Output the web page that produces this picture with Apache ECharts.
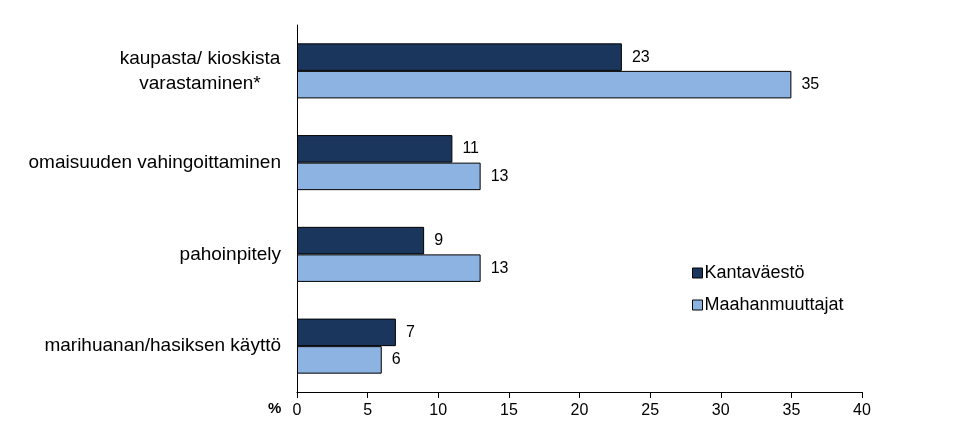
<!DOCTYPE html>
<html><head><meta charset="utf-8">
<script src="https://cdn.jsdelivr.net/npm/echarts@6/dist/echarts.min.js"></script>
<style>html,body{margin:0;padding:0;background:#fff}#c{width:979px;height:436px}</style>
</head><body><div id="c"></div>
<script>
const categories = ['kaupasta/ kioskista\nvarastaminen*', 'omaisuuden vahingoittaminen', 'pahoinpitely', 'marihuanan/hasiksen käyttö'];
const seriesNames = ['Kantaväestö', 'Maahanmuuttajat'];
const kantavaesto = [23, 11, 9, 7];
const maahanmuuttajat = [35, 13, 13, 6];
const colors = ['#1b365d', '#8db3e2'];
const font = 'Liberation Sans, Arial, sans-serif';
const chart = echarts.init(document.getElementById('c'));
chart.setOption({
  animation: false,
  textStyle: {fontFamily: font},
  grid: {left: 297, right: 117, top: 25, bottom: 44},
  legend: {
    orient: 'vertical', left: 687, top: 259, itemGap: 14,
    itemWidth: 10, itemHeight: 10, icon: 'rect',
    textStyle: {fontSize: 18, color: '#000', fontFamily: font, padding: [0,0,0,-3]},
    data: seriesNames.map((n, i) => ({name: n, itemStyle: {borderColor: '#000', borderWidth: 1}}))
  },
  xAxis: {
    type: 'value', min: 0, max: 40, interval: 5,
    axisLine: {show: true, lineStyle: {color: '#000'}},
    axisTick: {show: true, length: 6, lineStyle: {color: '#000'}},
    axisLabel: {color: '#000', fontSize: 16, margin: 11},
    splitLine: {show: false}
  },
  yAxis: {
    type: 'category', data: categories, inverse: true,
    axisLine: {show: true, lineStyle: {color: '#000'}},
    axisTick: {show: false},
    axisLabel: {
      color: '#000', fontSize: 19, margin: 16,
      formatter: v => v.indexOf('\n') >= 0 ? v.split('\n').map(l => '{c|' + l + '}').join('\n') : v,
      rich: {c: {width: 162, align: 'center', fontSize: 19, lineHeight: 25, color: '#000', fontFamily: font, padding: [0, 0, 0, 0]}},
      padding: [0, 0, 0, 0]
    }
  },
  graphic: [{type: 'text', left: 268, top: 401, style: {text: '%', fontSize: 15, fontWeight: 'bold', fill: '#000', fontFamily: font}}],
  series: [
    {name: seriesNames[0], type: 'bar', data: kantavaesto, barGap: '0%', barCategoryGap: '40%',
     itemStyle: {color: colors[0], borderColor: '#000', borderWidth: 1},
     label: {show: true, position: 'right', distance: 10, color: '#000', fontSize: 16}},
    {name: seriesNames[1], type: 'bar', data: maahanmuuttajat,
     itemStyle: {color: colors[1], borderColor: '#000', borderWidth: 1},
     label: {show: true, position: 'right', distance: 10, color: '#000', fontSize: 16}}
  ]
});
</script></body></html>
